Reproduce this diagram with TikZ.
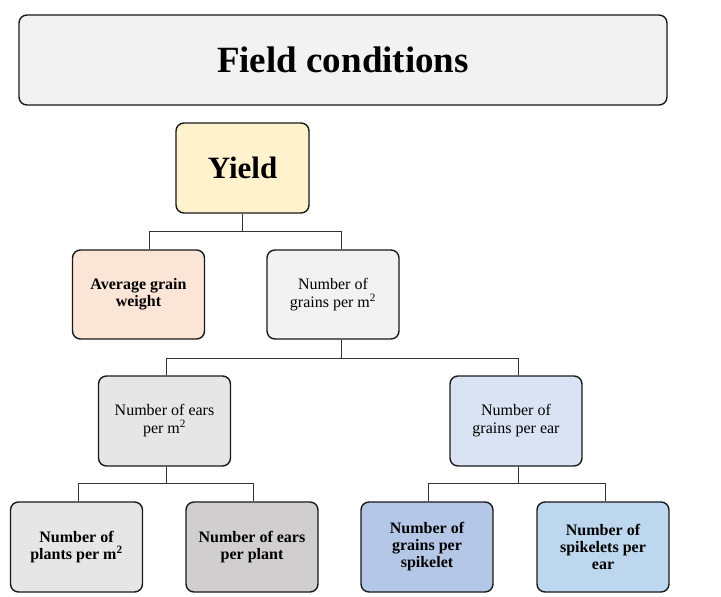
\documentclass[tikz,border=0pt]{standalone}
\usepackage{fontspec}
\setmainfont{Liberation Serif}
\usepackage{tikz}
\usetikzlibrary{positioning}

\definecolor{fieldgray}{HTML}{F2F2F2}
\definecolor{yieldyellow}{HTML}{FFF2CC}
\definecolor{weightpeach}{HTML}{FBE5D6}
\definecolor{grainsgray}{HTML}{F2F2F2}
\definecolor{earsgray}{HTML}{E6E6E6}
\definecolor{earblue}{HTML}{DAE3F3}
\definecolor{plantsgray}{HTML}{E7E6E6}
\definecolor{perplantgray}{HTML}{D0CECE}
\definecolor{spikeletblue}{HTML}{B4C7E7}
\definecolor{spikeletsblue}{HTML}{BDD7EE}

\begin{document}
\begin{tikzpicture}[
x=1pt, y=-1pt,
box/.style={rectangle, rounded corners=8pt, draw=black!90, line width=1.4pt, align=center, inner sep=2pt, font=\fontsize{16}{18}\selectfont},
smallbox/.style={box, minimum width=132pt, minimum height=89pt},
link/.style={draw=black!80, line width=1pt},
]
\useasboundingbox (0,0) rectangle (721,597);

% top level
\node[box, fill=fieldgray, minimum width=648pt, minimum height=90pt, font=\fontsize{37}{40}\selectfont\bfseries] (field) at (343,60) {Field conditions};
\node[box, fill=yieldyellow, minimum width=133pt, minimum height=90pt, font=\fontsize{31}{34}\selectfont\bfseries] (yield) at (242.5,168) {Yield};

% second level
\node[smallbox, fill=weightpeach, font=\fontsize{16}{17}\selectfont\bfseries] (weight) at (138.5,294.5) {Average grain\\weight};
\node[smallbox, fill=grainsgray] (grainsm) at (333,294.5) {Number of\\grains per m\textsuperscript{2}};

% third level
\node[smallbox, fill=earsgray, minimum height=90pt] (earsm) at (164.5,421) {Number of ears\\per m\textsuperscript{2}};
\node[smallbox, fill=earblue, minimum height=90pt] (grainsear) at (516,421) {Number of\\grains per ear};

% bottom level
\node[smallbox, fill=plantsgray, minimum height=90pt, font=\fontsize{16}{17}\selectfont\bfseries] (plants) at (76.5,547) {Number of\\plants per m\textsuperscript{2}};
\node[smallbox, fill=perplantgray, minimum height=90pt, font=\fontsize{16}{17}\selectfont\bfseries] (earsplant) at (252,547) {Number of ears\\per plant};
\node[smallbox, fill=spikeletblue, minimum height=90pt, font=\fontsize{16}{17}\selectfont\bfseries] (grainsspk) at (427,547) {Number of\\grains per\\spikelet};
\node[smallbox, fill=spikeletsblue, minimum height=90pt, font=\fontsize{16}{17}\selectfont\bfseries] (spkear) at (603,547) {Number of\\spikelets per\\ear};

% connectors
\draw[link] (yield.south) -- ++(0,18) -| ([xshift=10.5pt]weight.north);
\draw[link] (yield.south) -- ++(0,18) -| ([xshift=8pt]grainsm.north);

\draw[link] ([xshift=8pt]grainsm.south) -- ++(0,19) -| ([xshift=1.5pt]earsm.north);
\draw[link] ([xshift=8pt]grainsm.south) -- ++(0,19) -| ([xshift=2pt]grainsear.north);

\draw[link] ([xshift=1.5pt]earsm.south) -- ++(0,17) -| ([xshift=1.5pt]plants.north);
\draw[link] ([xshift=1.5pt]earsm.south) -- ++(0,17) -| ([xshift=1pt]earsplant.north);

\draw[link] ([xshift=2pt]grainsear.south) -- ++(0,17) -| ([xshift=1pt]grainsspk.north);
\draw[link] ([xshift=2pt]grainsear.south) -- ++(0,17) -| ([xshift=2pt]spkear.north);
\end{tikzpicture}
\end{document}
